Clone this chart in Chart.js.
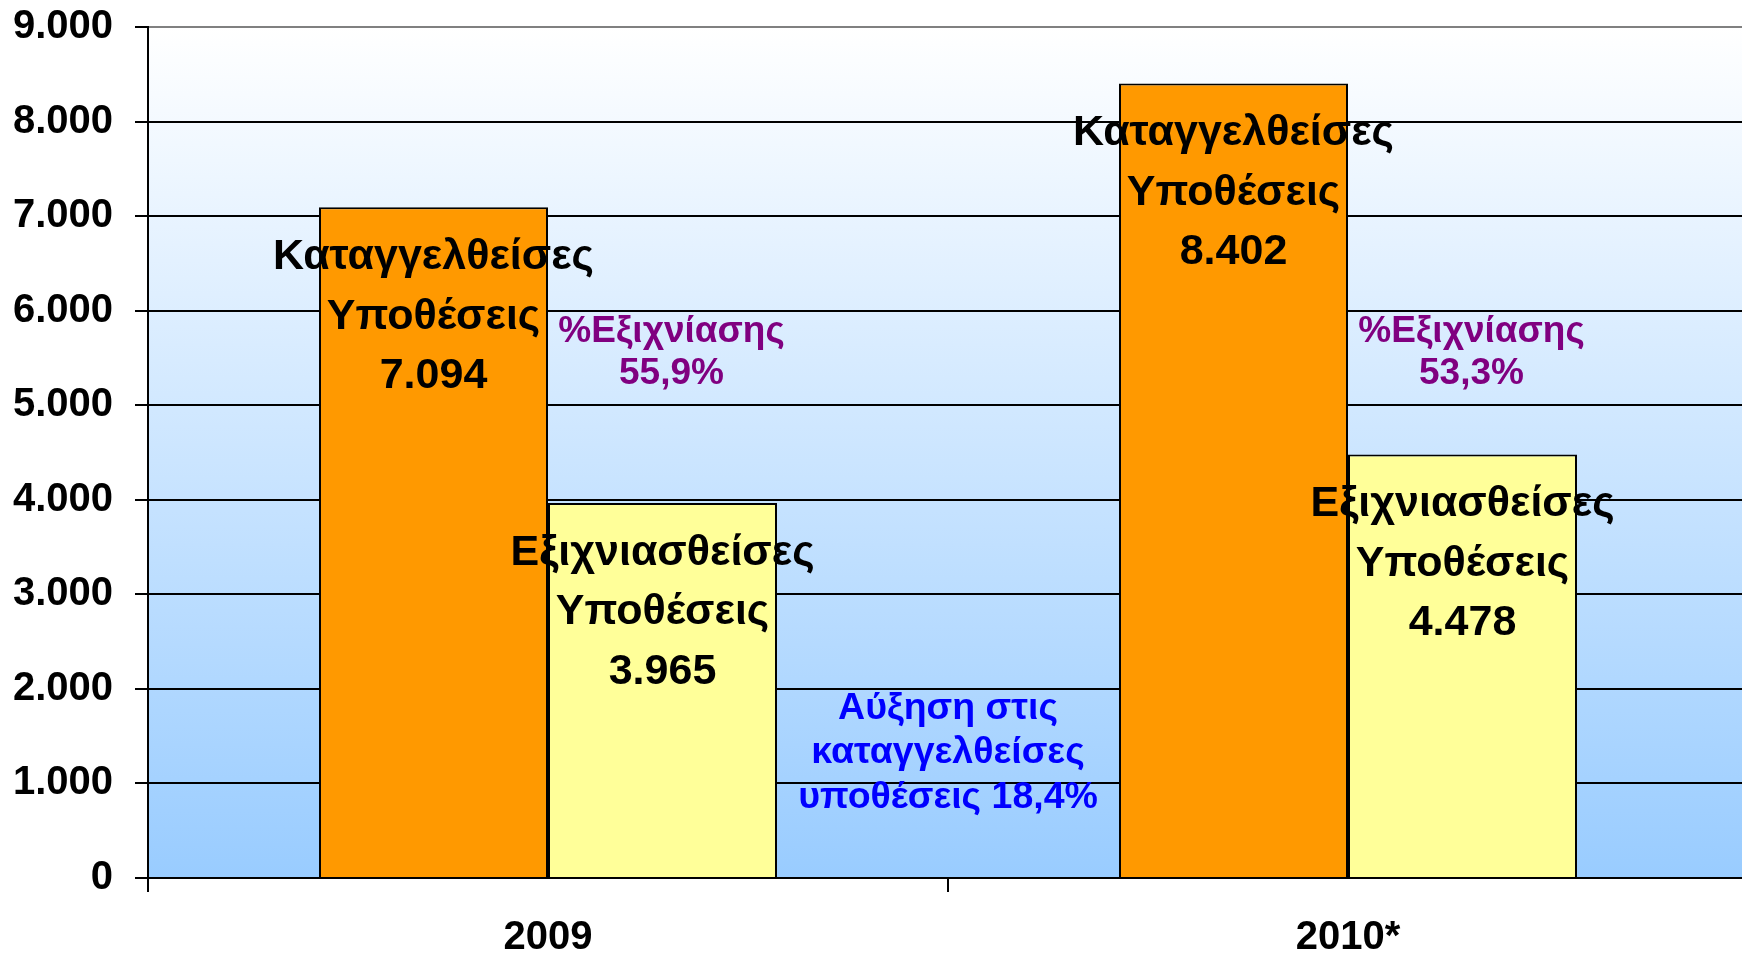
<!DOCTYPE html>
<html>
<head>
<meta charset="utf-8">
<script src="https://cdn.jsdelivr.net/npm/chart.js@4.4.1/dist/chart.umd.min.js"></script>
<style>
  html, body { margin: 0; padding: 0; background: #fff; overflow: hidden; }
  #wrap { width: 1748px; height: 959px; }
</style>
</head>
<body>
<div id="wrap"><canvas id="grafico"></canvas></div>
<script>
const years = ['2009', '2010*'];
const reported = [7094, 8402];
const solved = [3965, 4478];
const yTicks = [0, 1000, 2000, 3000, 4000, 5000, 6000, 7000, 8000, 9000];

const FONT = '"Liberation Sans", Arial, sans-serif';

function fmt(n) {
    return String(n).replace(/\B(?=(\d{3})+(?!\d))/g, '.');
}
function pct(v) {
    return v.toFixed(1).replace('.', ',') + '%';
}

const fondo = {
    id: 'fondo',
    beforeDraw(chart) {
        const { ctx, chartArea: a } = chart;
        const g = ctx.createLinearGradient(0, a.top, 0, a.bottom);
        g.addColorStop(0, '#FFFFFF');
        g.addColorStop(1, '#99CCFF');
        ctx.save();
        ctx.fillStyle = g;
        ctx.fillRect(a.left, a.top, a.right - a.left, a.bottom - a.top);
        ctx.restore();
    }
};

const rotulos = {
    id: 'rotulos',
    afterDatasetsDraw(chart) {
        const ctx = chart.ctx;
        const y = chart.scales.y, x = chart.scales.x;
        const nomes = [['Καταγγελθείσες', 'Υποθέσεις'], ['Εξιχνιασθείσες', 'Υποθέσεις']];
        ctx.save();
        ctx.textAlign = 'center';
        ctx.textBaseline = 'middle';
        chart.data.datasets.forEach((ds, i) => {
            chart.getDatasetMeta(i).data.forEach((bar, j) => {
                const linhas = [nomes[i][0], nomes[i][1], fmt(ds.data[j])];
                ctx.fillStyle = '#000';
                ctx.font = 'bold 43px ' + FONT;
                linhas.forEach((t, k) => ctx.fillText(t, bar.x, bar.y + 50 + k * 59.5));
            });
        });
        // % εξιχνίασης
        const amarelo = chart.getDatasetMeta(1).data;
        ctx.fillStyle = '#800080';
        ctx.font = 'bold 37px ' + FONT;
        amarelo.forEach((bar, j) => {
            const py = y.getPixelForValue(5780);
            ctx.fillText('%Εξιχνίασης', bar.x + 9, py);
            ctx.fillText(pct(solved[j] / reported[j] * 100), bar.x + 9, py + 42);
        });
        // αύξηση
        const bx = (x.getPixelForValue(0) + x.getPixelForValue(1)) / 2;
        const by = y.getPixelForValue(1795);
        ctx.fillStyle = '#0000FF';
        ctx.font = 'bold 37.5px ' + FONT;
        ctx.fillText('Αύξηση στις', bx, by);
        ctx.fillText('καταγγελθείσες', bx, by + 44.5);
        ctx.fillText('υποθέσεις ' + pct((reported[1] / reported[0] - 1) * 100), bx, by + 89);
        ctx.restore();
    }
};

const ctx = document.getElementById('grafico').getContext('2d');
const grafico = new Chart(ctx, {
    type: 'bar',
    data: {
        labels: years,
        datasets: [{
            label: 'Καταγγελθείσες Υποθέσεις',
            data: reported,
            backgroundColor: '#FF9900',
            borderColor: '#000000',
            borderWidth: 2
        }, {
            label: 'Εξιχνιασθείσες Υποθέσεις',
            data: solved,
            backgroundColor: '#FFFF99',
            borderColor: '#000000',
            borderWidth: 2
        }]
    },
    options: {
        responsive: true,
        maintainAspectRatio: false,
        animation: false,
        categoryPercentage: 0.5725,
        barPercentage: 1.0,
        layout: { padding: { top: 27, right: 0, left: 0, bottom: 0 } },
        plugins: {
            legend: { display: false },
            tooltip: { enabled: false }
        },
        scales: {
            x: {
                afterFit(s) {
                    s.height = 81;
                    s.paddingLeft = 0;
                    s.paddingRight = 0;
                },
                grid: {
                    offset: true,
                    drawOnChartArea: false,
                    tickLength: 14,
                    color: '#000',
                    lineWidth: 2
                },
                border: { color: '#000', width: 2 },
                ticks: {
                    padding: 22,
                    color: '#000',
                    font: { family: FONT, size: 40, weight: 'bold' }
                }
            },
            y: {
                min: 0,
                max: 9000,
                afterFit(s) {
                    s.width = 148;
                    s.paddingTop = 0;
                    s.paddingBottom = 0;
                },
                afterBuildTicks(s) { s.ticks = yTicks.map(v => ({ value: v })); },
                grid: {
                    color: c => (c.tick && c.tick.value === 9000) ? '#808080' : '#000',
                    tickColor: '#000',
                    lineWidth: 2,
                    tickLength: 13
                },
                border: { color: '#000', width: 2 },
                ticks: {
                    padding: 22,
                    color: '#000',
                    font: { family: FONT, size: 40, weight: 'bold' },
                    callback: v => fmt(v)
                }
            }
        }
    },
    plugins: [fondo, rotulos]
});
</script>
</body>
</html>
